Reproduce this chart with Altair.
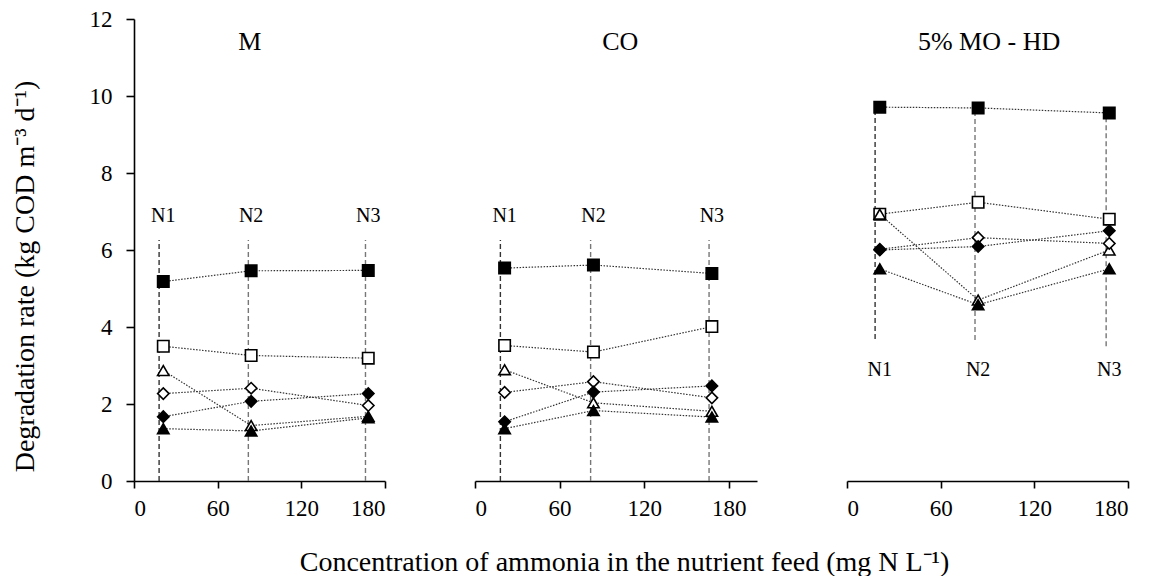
import altair as alt
import pandas as pd

FONT = "Liberation Serif"

# ---- data ----
panels = ["M", "CO", "5% MO - HD"]
n_labels = ["N1", "N2", "N3"]
x_marker = [21, 84, 168]        # ammonia concentration of each feed (mg N/L)
x_guide = [18, 82, 166]         # dashed guide lines
series = ["filled square", "open square", "open triangle",
          "open diamond", "filled diamond", "filled triangle"]
shapes = ["square", "square", "triangle-up", "diamond", "diamond", "triangle-up"]
fills = ["black", "white", "white", "white", "black", "black"]
sizes = [130, 130, 120, 95, 95, 120]

values_M = {
    "filled square": [5.18, 5.46, 5.47],
    "open square": [3.50, 3.26, 3.19],
    "open triangle": [2.87, 1.44, 1.68],
    "open diamond": [2.27, 2.41, 1.96],
    "filled diamond": [1.67, 2.07, 2.27],
    "filled triangle": [1.36, 1.30, 1.64],
}
values_CO = {
    "filled square": [5.53, 5.61, 5.39],
    "open square": [3.52, 3.35, 4.01],
    "open triangle": [2.89, 2.03, 1.81],
    "open diamond": [2.30, 2.58, 2.16],
    "filled diamond": [1.54, 2.31, 2.47],
    "filled triangle": [1.36, 1.83, 1.66],
}
values_MO = {
    "filled square": [9.71, 9.69, 9.56],
    "open square": [6.93, 7.24, 6.80],
    "open triangle": [6.93, 4.70, 6.00],
    "open diamond": [6.02, 6.32, 6.17],
    "filled diamond": [6.00, 6.09, 6.50],
    "filled triangle": [5.51, 4.58, 5.51],
}
panel_values = [values_M, values_CO, values_MO]

guide_low = [[0, 0, 0], [0, 0, 0], [3.69, 3.66, 3.50]]
guide_high = [[6.26, 6.26, 6.26], [6.26, 6.26, 6.26], [9.71, 9.69, 9.56]]
guide_colors = ["#333333", "#777777", "#777777"]
nlabel_y = [6.88, 6.88, 2.89]

panel_title_x = [83, 103, 91]
panel_title_y = 11.41
x_max = [180, 200, 180]
panel_width = [251, 282, 281]
PLOT_H = 462

x_ticks = [0, 60, 120, 180]
y_ticks = [0, 2, 4, 6, 8, 10, 12]

y_title = "Degradation rate (kg COD m\u207b\u00b3 d\u207b\u00b9)"
x_title = "Concentration of ammonia in the nutrient feed (mg N L\u207b\u00b9)"


def make_panel(i):
    vals = panel_values[i]
    rows = []
    for s in series:
        for k in range(3):
            rows.append({"x": x_marker[k], "y": vals[s][k], "series": s})
    pts = pd.DataFrame(rows)
    guides = pd.DataFrame({
        "x": x_guide, "y": guide_low[i], "y2": guide_high[i], "N": n_labels,
    })
    labels = pd.DataFrame({"x": x_marker, "y": [nlabel_y[i]] * 3, "N": n_labels})
    title_df = pd.DataFrame({"x": [panel_title_x[i]], "y": [panel_title_y], "t": [panels[i]]})

    x_axis = alt.Axis(
        values=x_ticks, grid=False, domainColor="black", domainWidth=1.6,
        tickColor="black", tickWidth=1.6, tickSize=7, labelPadding=9,
        labelFont=FONT, labelFontSize=23, labelColor="black",
        title=x_title if i == 1 else None,
        titleFont=FONT, titleFontSize=28, titleFontWeight="normal",
        titleColor="black", titleX=149, titleY=89, titleBaseline="alphabetic",
        titleAlign="center",
    )
    xs = alt.Scale(domain=[0, x_max[i]], nice=False, zero=False)
    ys = alt.Scale(domain=[0, 12], nice=False)
    if i == 0:
        y_axis = alt.Axis(
            values=y_ticks, grid=False, domainColor="black", domainWidth=1.6,
            tickColor="black", tickWidth=1.6, tickSize=8, labelPadding=14,
            labelFont=FONT, labelFontSize=23, labelColor="black",
            title=y_title, titleFont=FONT, titleFontSize=28,
            titleFontWeight="normal", titleColor="black", titlePadding=50,
            titleY=257,
        )
    else:
        y_axis = None

    X = alt.X("x:Q", scale=xs, axis=x_axis)
    Y = alt.Y("y:Q", scale=ys, axis=y_axis)

    g = alt.Chart(guides).mark_rule(strokeDash=[5, 3], strokeWidth=1.4).encode(
        x=alt.X("x:Q", scale=xs, axis=x_axis),
        y=alt.Y("y:Q", scale=ys, axis=y_axis),
        y2="y2:Q",
        color=alt.Color("N:N", scale=alt.Scale(domain=n_labels, range=guide_colors), legend=None),
    )
    lines = alt.Chart(pts).mark_line(strokeDash=[1.5, 1.5], strokeWidth=1.2, color="#333333").encode(
        x=X, y=Y, detail="series:N", order="x:Q",
    )
    points = alt.Chart(pts).mark_point(filled=True, stroke="black", strokeWidth=1.6, opacity=1).encode(
        x=X, y=Y,
        shape=alt.Shape("series:N", scale=alt.Scale(domain=series, range=shapes), legend=None),
        fill=alt.Fill("series:N", scale=alt.Scale(domain=series, range=fills), legend=None),
        size=alt.Size("series:N", scale=alt.Scale(domain=series, range=sizes), legend=None),
    )
    nl = alt.Chart(labels).mark_text(font=FONT, fontSize=20, color="black", baseline="middle").encode(
        x=X, y=Y, text="N:N",
    )
    tt = alt.Chart(title_df).mark_text(font=FONT, fontSize=26, color="black", baseline="middle").encode(
        x=X, y=Y, text="t:N",
    )
    return alt.layer(g, lines, points, nl, tt).properties(width=panel_width[i], height=PLOT_H)


chart = alt.hconcat(
    make_panel(0), make_panel(1), make_panel(2), spacing=90, bounds="flush",
).properties(
    padding={"left": 3, "top": 0, "right": 5, "bottom": 0}
).configure(font=FONT).configure_view(stroke=None).configure_axis(
    grid=False, labelFont=FONT, titleFont=FONT
)

chart.save("out.html", embed_options={"renderer": "svg", "actions": False})
